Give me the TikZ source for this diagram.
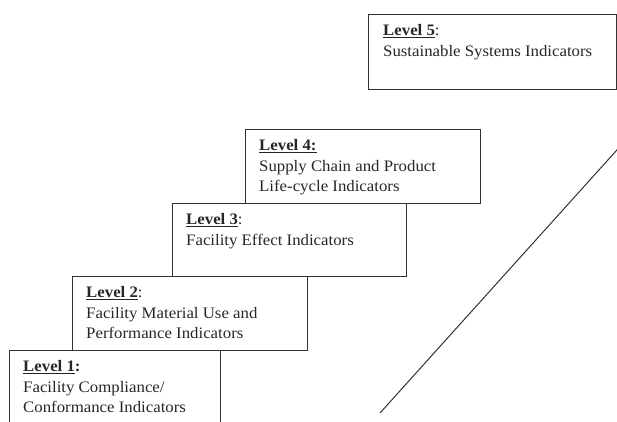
\documentclass[tikz,border=0pt]{standalone}
\usepackage{fontspec}
\setmainfont{Liberation Serif}[FakeStretch=1.05]
\usepackage{tikz}
\usetikzlibrary{arrows,positioning}

\tikzset{
    niveau/.style={draw=black!80, line width=1pt, rectangle, anchor=north west, inner sep=0pt},
    texte/.style={anchor=north west, align=left, inner sep=0pt, text=black!85,
        font=\fontsize{16}{20.5}\selectfont},
    trait/.style={draw=black!80, line width=1pt}
}
\newcommand{\titre}[1]{\underline{\textbf{#1}}}

\begin{document}
\begin{tikzpicture}[x=1pt,y=-1pt]

\useasboundingbox (0,0) rectangle (617,421);
\clip (0,0) rectangle (617,421);

% Niveau 1
\node[niveau, minimum width=211pt, minimum height=90pt] (n1) at (9,350) {};
\node[texte] (t1) at ([xshift=14pt,yshift=-10.5pt]n1.north west)
    {\titre{Level 1}\textbf{:}\\Facility Compliance/\\Conformance Indicators};

% Niveau 2
\node[niveau, minimum width=235pt, minimum height=74pt] (n2) at (72,276) {};
\node[texte] (t2) at ([xshift=14pt,yshift=-10.5pt]n2.north west)
    {\titre{Level 2}:\\Facility Material Use and\\Performance Indicators};

% Niveau 3
\node[niveau, minimum width=234pt, minimum height=73pt] (n3) at (172,203) {};
\node[texte] (t3) at ([xshift=14pt,yshift=-10.5pt]n3.north west)
    {\titre{Level 3}:\\Facility Effect Indicators};

% Niveau 4
\node[niveau, minimum width=235pt, minimum height=74pt] (n4) at (245,129) {};
\node[texte] (t4) at ([xshift=14pt,yshift=-10.5pt]n4.north west)
    {\titre{Level 4:}\\Supply Chain and Product\\Life-cycle Indicators};

% Niveau 5
\node[niveau, minimum width=248pt, minimum height=75pt] (n5) at (368,14) {};
\node[texte] (t5) at ([xshift=15pt,yshift=-10.5pt]n5.north west)
    {\titre{Level 5}:\\Sustainable Systems Indicators};

% Fleche montante
\coordinate (bas) at (380,413);
\coordinate (haut) at (625,141);
\draw[trait,->,>=stealth] (bas) -- (haut);

\end{tikzpicture}
\end{document}
